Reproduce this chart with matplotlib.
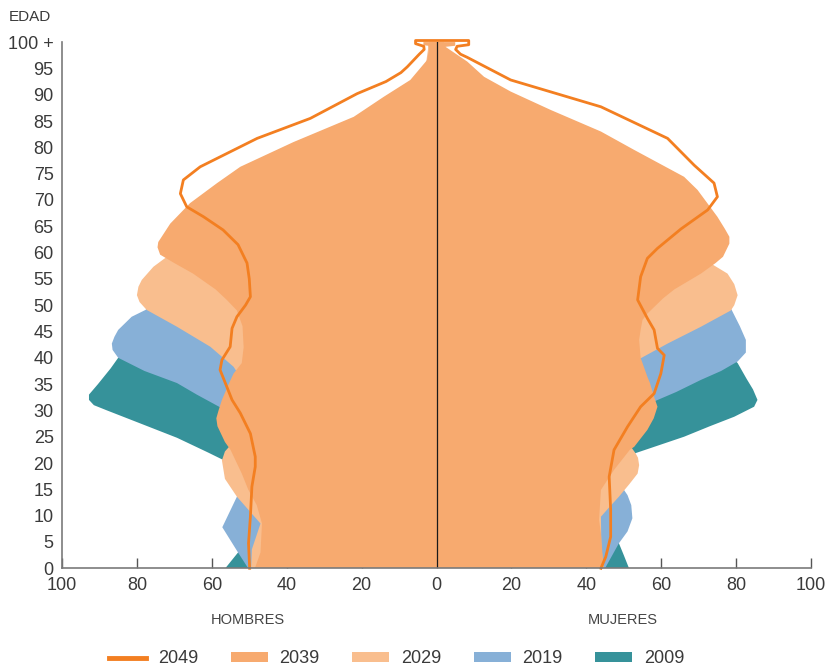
import numpy as np
import matplotlib
matplotlib.use("Agg")
import matplotlib.pyplot as plt
from matplotlib.lines import Line2D
from matplotlib.patches import Patch
from matplotlib.ticker import FuncFormatter

# --- data (population, both sides in the same units) ---
# HOMBRES (left side)
edad_h_2009 = [0, 3, 6, 10, 15, 19, 20.6, 22, 24.8, 27.5, 30, 31, 32, 33, 35, 38, 40, 42, 45, 50, 55, 60, 65, 70, 75, 80, 85, 90, 95, 100]
h_2009 = [56.4, 53, 50, 47, 48, 54, 57, 61, 69.3, 79, 88, 91.5, 92.8, 92.8, 90.4, 87, 85, 80, 75, 70, 64, 60, 55, 48, 40, 28, 16, 7, 2, 0.5]

edad_h_2019 = [0, 3, 7.8, 13.6, 17, 22, 27, 30.6, 33, 35.2, 37.5, 40, 41.5, 42.7, 44, 45.3, 47.8, 49.1, 52, 55, 60, 65, 70, 75, 80, 85, 90, 95, 100]
h_2019 = [50.3, 53, 57.2, 53.3, 52, 52, 55, 57.8, 64, 69.3, 78, 85, 86.5, 86.7, 86, 85, 81.4, 77.7, 74, 70, 64, 58, 50, 42, 30, 18, 8, 2, 1]

edad_h_2029 = [0, 3.6, 8.5, 13.6, 17, 20.5, 22.2, 25, 30, 35, 37, 38.3, 42.1, 45.9, 49.1, 50.6, 51.9, 53.5, 54.8, 57.3, 59.2, 60.5,
               62, 65, 70, 75, 80, 85, 90, 95, 100]
h_2029 = [49.5, 49.3, 47, 53.3, 56.5, 57.3, 56.5, 53, 53, 52, 53, 54.2, 60.4, 69.3, 77.4, 79.3, 80, 79.6, 78.7, 75.6, 72, 68,
          68, 64, 58, 48, 34, 20, 10, 3, 2]

edad_h_2039 = [0, 3, 8.5, 12, 15, 18, 22.5, 24, 27, 28.5, 30, 32, 35, 37, 39, 42, 46, 49, 51, 53, 56, 58, 59.6, 61, 62,
               65.5, 69.4, 73.2, 76.3, 81, 85.8, 89.6, 92.8, 96.6, 98.5, 99.3, 99.4, 100]
h_2039 = [48.5, 47, 46.6, 48, 50.3, 52, 55, 56.5, 58.5, 58.8, 58.2, 57.3, 55.5, 54.2, 52, 51.5, 51.8, 53.3, 56, 59, 65, 70, 73.8, 74.5, 74.3,
          71.1, 65.8, 58.6, 52.4, 38.2, 22.1, 14.1, 7, 2.5, 2.0, 2.2, 3.5, 3.5]

edad_h_2049 = [0, 4.75, 9.8, 15.5, 19.3, 21.2, 25.6, 29.5, 32, 34.5, 37.7, 39.6, 42.1, 45.6, 47.8, 50, 51.6, 55, 58, 61.5, 64.3,
               66.8, 68.7, 71.2, 73.8, 76.3, 81.7, 85.5, 90.2, 92.5, 94.2, 95.3, 96.5, 97.7, 98.6, 99.2, 99.7, 100.3]
h_2049 = [49.9, 50.2, 49.7, 49.3, 48.4, 48.4, 49.7, 52.4, 54.6, 56, 57.8, 57.3, 55.1, 54.6, 53.3, 51, 49.7, 50, 50.6, 53, 57,
          62.2, 66.7, 68.4, 67.6, 63.1, 47.9, 33.7, 21.2, 13.5, 9.5, 7.8, 6.2, 4.6, 3.3, 3.4, 5.6, 5.6]

# MUJERES (right side)
edad_m_2009 = [0, 2.5, 4.75, 8, 12, 16, 19.5, 21.8, 23, 25, 27, 28.8, 30.7, 32, 34, 36, 39, 42, 45, 50, 55, 60, 65, 70, 75, 80, 85, 90, 95, 100]
m_2009 = [51.4, 50, 48.7, 47, 47, 48, 51, 52.8, 57.8, 66.1, 73, 79.5, 84.8, 85.7, 84.5, 82.8, 80.4, 76, 72, 68, 64, 60, 56, 50, 42, 30, 18, 8, 2, 0.5]

edad_m_2019 = [0, 4.75, 7, 9.5, 12, 13.9, 16, 20, 25, 28, 31.7, 33.5, 35.8, 37.5, 39.3, 41, 43.4, 46, 49.4, 52, 55, 60, 65, 70, 75, 80, 85, 90, 95, 100]
m_2019 = [45, 48.7, 51, 52.3, 52, 51, 49, 50, 52, 55, 58.1, 64, 70.6, 76, 80.4, 82.6, 82.6, 81, 78.6, 74, 70, 64, 60, 55, 46, 34, 22, 10, 4, 1]

edad_m_2029 = [0, 5, 9.8, 11.5, 13.6, 16, 18, 19.6, 21, 21.8, 23, 25, 30, 35, 38, 39.9, 42.7, 45.9, 49, 50, 51.9, 54, 56, 57.9, 59,
               62, 65, 70, 75, 80, 85, 90, 95, 99, 100]
m_2029 = [44.5, 44, 43.9, 46, 48.7, 51.5, 53.7, 54.1, 53.8, 53.2, 52, 53, 55, 54, 53.5, 54.5, 61.7, 70.6, 78.6, 79.5, 80.4, 79.5, 77.7, 73.3, 71,
          70, 68, 62, 52, 40, 28, 15, 5, 2, 2]

edad_m_2039 = [0, 2.85, 6.6, 9.2, 14.9, 18.7, 22.5, 23.1, 26.3, 28.5, 30.7, 32.6, 35.2, 36.4, 40, 43.4, 45.3, 47.2, 48.4, 51.3, 53, 56, 58,
               59.2, 61.7, 63, 64.5, 66.8, 71.9, 74.4, 79.5, 83, 87.1, 90.6, 93.4, 96.3, 99.1, 99.3, 100]
m_2039 = [44.7, 44.3, 43.9, 43.4, 43.9, 47.4, 51.6, 52.8, 56.3, 58, 59, 58.1, 57, 56.3, 54.5, 54.1, 54.5, 55, 56.3, 60.5, 63.5, 70.6, 74.5,
          76.5, 78.2, 78.2, 77, 75, 69.7, 66.1, 52.8, 43.9, 30.5, 19.8, 12.7, 8.2, 2.4, 5, 5]

edad_m_2049 = [0, 2.2, 6, 11.1, 17.4, 22.5, 26.9, 30.7, 33.2, 37, 40.5, 41.8, 45.3, 47.5, 51, 55.4, 58.9, 60.8, 64.5, 68.1, 70.6,
               73.2, 76.6, 81.7, 87.7, 92.8, 97.1, 97.7, 98.6, 99.2, 99.5, 100.3]
m_2049 = [43.9, 45.2, 46.5, 46.5, 46.1, 47.4, 51, 54.5, 58.1, 59.9, 60.8, 59, 58.1, 56.3, 53.7, 54.5, 56.3, 59, 65.3, 72.4, 75,
          74.1, 68.8, 61.7, 43.9, 19.8, 8.2, 6.4, 5.1, 5.5, 8.6, 8.6]

years = ["2049", "2039", "2029", "2019", "2009"]
colors = {"2049": "#F37F21", "2039": "#F7AA6F", "2029": "#F9BE8E", "2019": "#87B0D7", "2009": "#36929A"}

y_ticks = list(range(0, 101, 5))
y_labels = [str(t) for t in y_ticks[:-1]] + ["100 +"]
x_ticks = list(range(-100, 101, 20))

plt.rcParams["font.family"] = ["Liberation Sans", "DejaVu Sans"]
text_color = "#3a3a3a"

fig = plt.figure(figsize=(8.28, 6.68), dpi=100)
ax = fig.add_axes([0.0749, 0.1493, 0.9046, 0.7877])

fills = [
    ("2009", edad_h_2009, h_2009, edad_m_2009, m_2009),
    ("2019", edad_h_2019, h_2019, edad_m_2019, m_2019),
    ("2029", edad_h_2029, h_2029, edad_m_2029, m_2029),
    ("2039", edad_h_2039, h_2039, edad_m_2039, m_2039),
]
for year, eh, h, em, m in fills:
    xs = np.concatenate([-np.array(h), np.array(m)[::-1]])
    ys = np.concatenate([np.array(eh), np.array(em)[::-1]])
    ax.fill(xs, ys, color=colors[year], lw=0, zorder=2)

ax.axvline(0, ymin=0, ymax=1, color="#1a1a1a", lw=0.9, zorder=3)

line_x = np.concatenate([-np.array(h_2049), np.array(m_2049)[::-1]])
line_y = np.concatenate([np.array(edad_h_2049), np.array(edad_m_2049)[::-1]])
ax.plot(line_x, line_y, color=colors["2049"], lw=2.0, zorder=4,
        solid_joinstyle="round", clip_on=False)

ax.set_xlim(-100, 100)
ax.set_ylim(0, 100)
ax.set_xticks(x_ticks)
ax.xaxis.set_major_formatter(FuncFormatter(lambda v, p: f"{abs(v):.0f}"))
ax.set_yticks(y_ticks)
ax.set_yticklabels(y_labels)

for s in ["top", "right"]:
    ax.spines[s].set_visible(False)
for s in ["left", "bottom"]:
    ax.spines[s].set_color("#7a7a7a")
    ax.spines[s].set_linewidth(1.2)
    ax.spines[s].set_zorder(5)

ax.tick_params(axis="x", direction="in", length=7, width=1, color="#555555",
               labelsize=13, labelcolor=text_color, pad=6)
ax.tick_params(axis="y", length=0, labelsize=13, labelcolor=text_color, pad=6)

fig.text(9 / 828, 1 - 17 / 668, "EDAD", fontsize=11, color=text_color, ha="left", va="center")
fig.text(248 / 828, 1 - 620 / 668, "HOMBRES", fontsize=10.5, color="#444444", ha="center", va="center")
fig.text(623 / 828, 1 - 620 / 668, "MUJERES", fontsize=10.5, color="#444444", ha="center", va="center")

handles = [Line2D([], [], color=colors["2049"], lw=3.5)]
handles += [Patch(facecolor=colors[y], edgecolor="none") for y in years[1:]]
fig.legend(handles, years, ncol=5, loc="center", bbox_to_anchor=(0.479, 0.0135),
           frameon=False, fontsize=13, labelcolor=text_color,
           handlelength=2.05, handleheight=0.45, handletextpad=0.65, columnspacing=1.8)

fig.savefig("out.png", dpi=100)
